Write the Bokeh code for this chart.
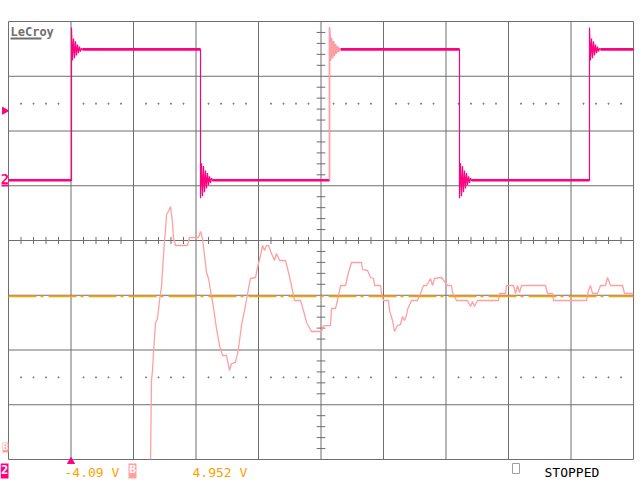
from bokeh.plotting import figure
from bokeh.models import Range1d
from bokeh.core.properties import value
from bokeh.embed import file_html
from bokeh.resources import INLINE

# ---------------- data (oscilloscope screen divisions: x 0..10, y -4..4) ----------------
# Channel 2 square wave
ch2_edges = [1.008, 3.072, 5.136, 7.216, 9.296]   # edge times (div)
ch2_high = 3.49
ch2_low = 1.10
ring_rise = [0.40, -0.20, 0.20, -0.16, 0.15, -0.11, 0.09, -0.07, 0.05, -0.04, 0.02, 0.0]
ring_fall = [-0.33, 0.31, -0.29, 0.26, -0.22, 0.18, -0.15, 0.13, -0.09, 0.07, -0.05, 0.04, 0.0]
ring_dt = 0.016

# Trace B (zoomed edge)
b_x = [2.272, 2.288, 2.304, 2.32, 2.352, 2.384, 2.416, 2.448, 2.48, 2.496,
       2.512, 2.528, 2.56, 2.592, 2.624, 2.64, 2.672, 2.864, 2.896, 3.04,
       3.072, 3.104, 3.136, 3.168, 3.2, 3.232, 3.28, 3.328, 3.376, 3.424,
       3.488, 3.536, 3.568, 3.632, 3.68, 3.728, 3.792, 3.84, 3.872, 3.952,
       3.984, 4.032, 4.064, 4.096, 4.128, 4.16, 4.208, 4.256, 4.288, 4.336,
       4.432, 4.48, 4.528, 4.576, 4.672, 4.72, 4.768, 4.848, 5.008, 5.04,
       5.152, 5.168, 5.232, 5.264, 5.312, 5.392, 5.44, 5.488, 5.648, 5.664,
       5.744, 5.792, 5.84, 5.856, 5.952, 5.968, 6.0, 6.08, 6.096, 6.144,
       6.176, 6.224, 6.272, 6.304, 6.336, 6.368, 6.384, 6.448, 6.544, 6.592,
       6.64, 6.688, 6.752, 6.784, 6.816, 6.928, 7.024, 7.088, 7.104, 7.168,
       7.344, 7.392, 7.424, 7.456, 7.504, 7.84, 7.856, 7.952, 7.968, 8.08,
       8.112, 8.144, 8.176, 8.208, 8.592, 8.624, 8.704, 8.72, 9.248, 9.28,
       9.312, 9.344, 9.424, 9.472, 9.552, 9.584, 9.632, 9.824, 9.856, 10.0]
b_y = [-4.0, -2.557, -2.374, -2.046, -1.516, -1.425, -1.096, -0.840, -0.274, 0.0,
       0.183, 0.475, 0.530, 0.621, 0.329, 0.055, -0.091, -0.091, 0.055, 0.055,
       0.164, 0.037, -0.274, -0.584, -0.694, -0.913, -1.224, -1.607, -1.918, -2.1,
       -2.1, -2.374, -2.247, -2.228, -1.973, -1.553, -1.187, -0.877, -0.694, -0.676,
       -0.493, -0.274, -0.091, -0.183, -0.091, -0.091, -0.237, -0.365, -0.237, -0.365,
       -0.365, -0.584, -0.822, -1.096, -1.096, -1.279, -1.498, -1.662, -1.662, -1.553,
       -1.553, -1.242, -1.242, -1.096, -0.822, -0.822, -0.584, -0.402, -0.402, -0.530,
       -0.548, -0.676, -0.694, -0.822, -0.822, -0.968, -1.096, -1.096, -1.279, -1.461,
       -1.662, -1.553, -1.534, -1.388, -1.461, -1.370, -1.260, -1.096, -1.096, -0.968,
       -0.822, -0.822, -0.694, -0.822, -0.694, -0.676, -0.822, -0.822, -0.950, -1.096,
       -1.096, -1.205, -1.114, -1.205, -1.096, -1.096, -0.968, -0.968, -0.822, -0.822,
       -0.968, -0.822, -0.950, -0.822, -0.822, -0.968, -0.968, -1.096, -1.096, -0.913,
       -0.822, -0.968, -0.968, -0.822, -0.822, -0.676, -0.822, -0.822, -0.968, -0.968]
assert len(b_x) == len(b_y)

ref_level = -1.02          # orange dash-dot reference
trig_pos = 1.0             # trigger time marker
trig_level = 2.37          # trigger level marker (left)
grid_x = list(range(0, 11))
grid_y = list(range(-4, 5))
dot_rows = [2.5, -2.5]
texts_bottom = ["-4.09 V", "4.952 V"]
status_text = "STOPPED"
brand_text = "LeCroy"

# ---------------- colours ----------------
MAG = "#FF0080"
PINK = "#FFA0A0"
ORANGE = "#FFA000"
GRID = "#6E6E6E"

# ---------------- figure ----------------
W, H = 640, 480
p = figure(width=W, height=H, output_backend="svg", toolbar_location=None,
           x_range=Range1d(-8 / 62.5, (W - 8) / 62.5),
           y_range=Range1d((240 - H) / 54.75, 240 / 54.75),
           min_border=0)
p.axis.visible = False
p.grid.visible = False
p.outline_line_color = None
p.background_fill_color = "white"
p.border_fill_color = "white"

# screen-pixel helpers for decorations
def xs(px):
    return (px - 8) / 62.5

def ys(py):
    return (240 - py) / 54.75

# grid
p.segment(x0=grid_x, y0=[-4] * len(grid_x), x1=grid_x, y1=[4] * len(grid_x),
          line_color=GRID, line_width=1)
p.segment(x0=[0] * len(grid_y), y0=grid_y, x1=[10] * len(grid_y), y1=grid_y,
          line_color=GRID, line_width=1)

# centre-axis minor ticks
mx = [0.2 * k for k in range(1, 50) if k % 5 != 0]
p.segment(x0=mx, y0=[-0.065] * len(mx), x1=mx, y1=[0.065] * len(mx),
          line_color=GRID, line_width=1)
my = [0.2 * k for k in range(-19, 20) if k % 5 != 0]
p.segment(x0=[5 - 0.07] * len(my), y0=my, x1=[5 + 0.07] * len(my), y1=my,
          line_color=GRID, line_width=1)

# dotted rows
dx, dy = [], []
for r in dot_rows:
    for k in range(1, 50):
        if k % 5 != 0:
            dx.append(0.2 * k)
            dy.append(r)
p.scatter(x=dx, y=dy, marker="square", size=1.0, color="#808080")

# channel 2 trace
cx, cy = [0.0], [ch2_low]
level = ch2_low
edge_pieces = []
flat_x, flat_y = [], []
seg_start = 0.0
for i, t in enumerate(ch2_edges):
    rising = (i % 2 == 0)
    new = ch2_high if rising else ch2_low
    ring = ring_rise if rising else ring_fall
    flat_x.append([seg_start, t]); flat_y.append([level, level])
    px_, py_ = [t], [level]
    cx.append(t); cy.append(level)
    for k, r in enumerate(ring):
        cx.append(t + k * ring_dt); cy.append(new + r)
        px_.append(t + k * ring_dt); py_.append(new + r)
    edge_pieces.append((px_, py_))
    seg_start = t + (len(ring) - 1) * ring_dt
    level = new
flat_x.append([seg_start, 10.0]); flat_y.append([level, level])
cx.append(10.0); cy.append(level)
p.line(cx, cy, line_color=MAG, line_width=1.2)
p.multi_line(flat_x, flat_y, line_color=MAG, line_width=2.6)
# third edge highlighted (zoom source)
ex, ey = edge_pieces[2]
p.line(ex, ey, line_color=PINK, line_width=1.4)

# trace B
p.line(b_x, b_y, line_color=PINK, line_width=1.3)

# orange reference level
p.line([0, 10], [ref_level, ref_level], line_color=ORANGE, line_width=1.6,
       line_dash="28 4 3 5")

# trigger marker at bottom
p.scatter(x=[trig_pos], y=[ys(461)], marker="triangle", size=7, color=MAG)

# left markers: trigger level arrow and channel 2 offset
p.scatter(x=[xs(4)], y=[trig_level], marker="triangle", angle=-1.5708, size=7, color=MAG)
p.text(x=[xs(4.5)], y=[ys(178)], text=["2"], text_font=value("DejaVu Sans Mono"),
       text_font_size="14px", text_font_style="bold", text_color=MAG,
       text_align="center", text_baseline="alphabetic")
p.segment(x0=[xs(1)], y0=[ys(185)], x1=[xs(8)], y1=[ys(185)], line_color=MAG, line_width=2)

# brand
p.text(x=[xs(10)], y=[ys(31)], text=[brand_text], text_font=value("DejaVu Sans Mono"),
       text_font_size="12px", text_font_style="bold", text_color=GRID,
       text_align="left", text_baseline="alphabetic")
p.segment(x0=[xs(10)], y0=[ys(38)], x1=[xs(41)], y1=[ys(38)], line_color=GRID, line_width=2)

# bottom status line
base = ys(471.5)
p.text(x=[xs(64), xs(192)], y=[base, base], text=texts_bottom,
       text_font=value("DejaVu Sans Mono"), text_font_size="13px", text_color=ORANGE,
       text_align="left", text_baseline="alphabetic")
p.text(x=[xs(544)], y=[base], text=[status_text], text_font=value("DejaVu Sans Mono"),
       text_font_size="13px", text_color="black", text_align="left",
       text_baseline="alphabetic")
p.rect(x=[xs(515.5)], y=[ys(468)], width=7 / 62.5, height=10 / 54.75,
       fill_color=None, line_color="#A0A0A0", line_width=1)

# channel badges
p.rect(x=[xs(132)], y=[ys(470.5)], width=8 / 62.5, height=15 / 54.75,
       fill_color=PINK, line_color=None)
p.text(x=[xs(132)], y=[ys(469)], text=["B"], text_font=value("DejaVu Sans Mono"),
       text_font_size="11px", text_font_style="bold", text_color="white",
       text_align="center", text_baseline="middle")
p.rect(x=[xs(4)], y=[ys(470.5)], width=8 / 62.5, height=15 / 54.75,
       fill_color=MAG, line_color=None)
p.text(x=[xs(4)], y=[ys(469)], text=["2"], text_font=value("DejaVu Sans Mono"),
       text_font_size="12px", text_font_style="bold", text_color="white",
       text_align="center", text_baseline="middle")
p.rect(x=[xs(5)], y=[ys(447)], width=6 / 62.5, height=10 / 54.75,
       fill_color=PINK, line_color=None)
p.text(x=[xs(5)], y=[ys(446)], text=["B"], text_font=value("DejaVu Sans Mono"),
       text_font_size="9px", text_font_style="bold", text_color="white",
       text_align="center", text_baseline="middle")

open("out.html", "w").write(file_html(p, INLINE))
